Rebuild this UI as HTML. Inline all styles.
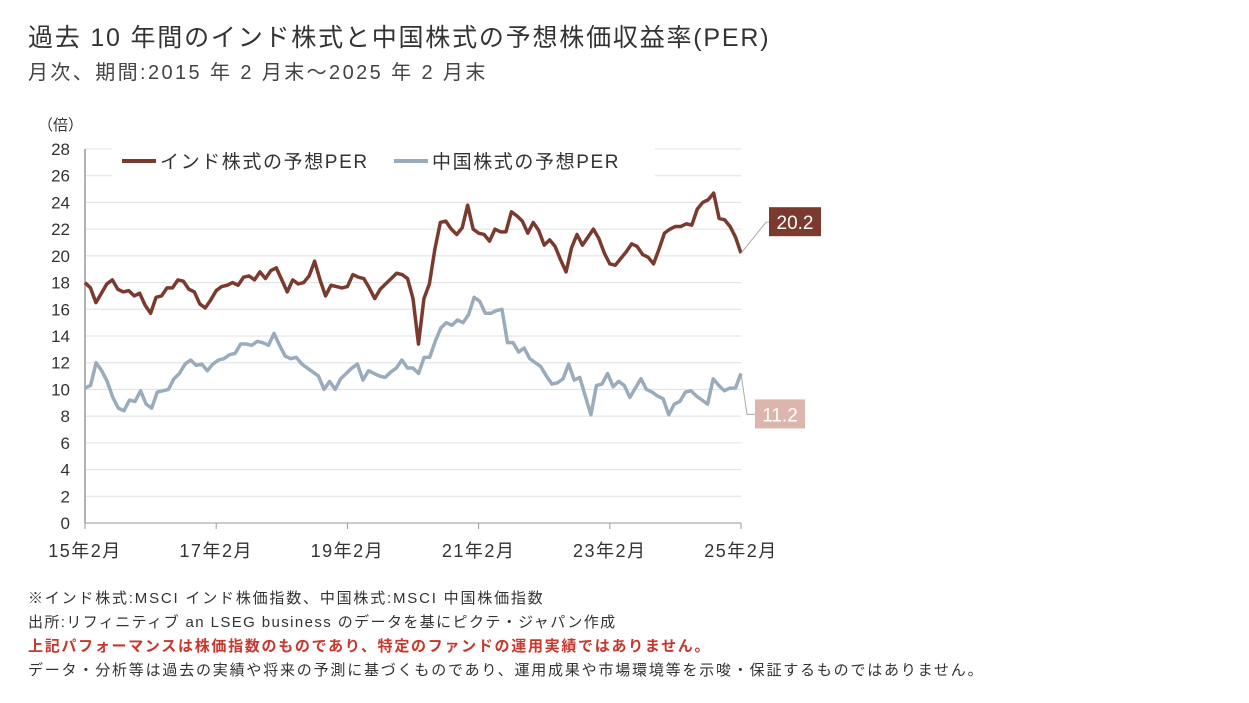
<!DOCTYPE html>
<html><head><meta charset="utf-8"><style>
body{margin:0;background:#fff;font-family:"Liberation Sans","Noto Sans CJK JP",sans-serif;}
#wrap{position:relative;width:1249px;height:703px;overflow:hidden;}
.t{position:absolute;white-space:nowrap;color:#333;}
</style></head><body><div id="wrap">
<div class="t" style="left:28px;top:18px;font-size:25px;letter-spacing:1.8px;color:#333;">過去 10 年間のインド株式と中国株式の予想株価収益率(PER)</div>
<div class="t" style="left:28px;top:56px;font-size:20px;letter-spacing:2.4px;color:#444;">月次、期間:2015 年 2 月末～2025 年 2 月末</div>
<svg id="chart" width="1249" height="703" style="position:absolute;left:0;top:0"></svg>
<div class="t" style="left:28px;top:587px;font-size:15px;letter-spacing:1.8px;">※インド株式:MSCI インド株価指数、中国株式:MSCI 中国株価指数</div>
<div class="t" style="left:28px;top:611px;font-size:15px;letter-spacing:1.4px;">出所:リフィニティブ an LSEG business のデータを基にピクテ・ジャパン作成</div>
<div class="t" style="left:28px;top:635px;font-size:15px;letter-spacing:1.7px;color:#c8372d;font-weight:bold;">上記パフォーマンスは株価指数のものであり、特定のファンドの運用実績ではありません。</div>
<div class="t" style="left:28px;top:659px;font-size:15px;letter-spacing:1.8px;">データ・分析等は過去の実績や将来の予測に基づくものであり、運用成果や市場環境等を示唆・保証するものではありません。</div>
</div>
<script>
const xLabels=["15年2月","17年2月","19年2月","21年2月","23年2月","25年2月"];
const yTicks=[0,2,4,6,8,10,12,14,16,18,20,22,24,26,28];
const india=[18.0,17.6,16.5,17.2,17.9,18.2,17.5,17.3,17.4,17.0,17.2,16.3,15.7,16.9,17.0,17.6,17.6,18.2,18.1,17.5,17.3,16.4,16.1,16.7,17.4,17.7,17.8,18.0,17.8,18.4,18.5,18.2,18.8,18.3,18.9,19.1,18.2,17.3,18.2,17.9,18.0,18.5,19.6,18.2,17.0,17.8,17.7,17.6,17.7,18.6,18.4,18.3,17.6,16.8,17.5,17.9,18.3,18.7,18.6,18.3,16.8,13.4,16.8,17.9,20.5,22.5,22.6,22.0,21.6,22.1,23.8,22.0,21.7,21.6,21.1,22.0,21.8,21.8,23.3,23.0,22.6,21.7,22.5,21.9,20.8,21.2,20.7,19.7,18.8,20.6,21.6,20.8,21.4,22.0,21.3,20.2,19.4,19.3,19.8,20.3,20.9,20.7,20.1,19.9,19.4,20.5,21.7,22.0,22.2,22.2,22.4,22.3,23.5,24.0,24.2,24.7,22.8,22.7,22.2,21.4,20.2];
const china=[10.1,10.3,12.0,11.4,10.6,9.4,8.6,8.4,9.2,9.1,9.9,8.9,8.6,9.8,9.9,10.0,10.8,11.2,11.9,12.2,11.8,11.9,11.4,11.9,12.2,12.3,12.6,12.7,13.4,13.4,13.3,13.6,13.5,13.3,14.2,13.3,12.5,12.3,12.4,11.9,11.6,11.3,11.0,10.0,10.6,10.0,10.8,11.2,11.6,11.9,10.7,11.4,11.2,11.0,10.9,11.3,11.6,12.2,11.6,11.6,11.2,12.4,12.4,13.6,14.6,15.0,14.8,15.2,15.0,15.6,16.9,16.6,15.7,15.7,15.9,16.0,13.5,13.5,12.8,13.1,12.3,12.0,11.7,11.0,10.4,10.5,10.8,11.9,10.7,10.9,9.5,8.1,10.3,10.4,11.2,10.2,10.6,10.3,9.4,10.1,10.8,10.0,9.8,9.5,9.3,8.1,8.9,9.1,9.8,9.9,9.5,9.2,8.9,10.8,10.3,9.9,10.1,10.1,11.2];
const seriesNames=["インド株式の予想PER","中国株式の予想PER"];
const X0=85,X1=741,Y0=523,Y1=149;
const xs=(i,n)=>X0+i*(X1-X0)/(n-1);
const ys=v=>Y0-(v/28)*(Y0-Y1);
const svg=document.getElementById('chart');const NS='http://www.w3.org/2000/svg';
function mk(tag,at,txt){const e=document.createElementNS(NS,tag);for(const k in at)e.setAttribute(k,at[k]);if(txt!==undefined)e.textContent=txt;svg.appendChild(e);return e;}
yTicks.forEach(v=>{
 const g=mk('line',{x1:X0,x2:X1,y1:ys(v),y2:ys(v),stroke:'#e0e0e0','stroke-width':1});
 
 
 const t=mk('text',{x:70,y:ys(v)+6,'text-anchor':'end','font-size':17,fill:'#333','font-family':'Liberation Sans'},v);
 
 
});
const yu=mk('text',{x:38,y:130,'font-size':15,fill:'#333','font-family':'Liberation Sans, Noto Sans CJK JP'},'（倍）');


const ax=mk('line',{x1:X0,x2:X0,y1:Y1,y2:Y0,stroke:'#999','stroke-width':1.5});


const xa=mk('line',{x1:X0,x2:X1,y1:Y0,y2:Y0,stroke:'#999','stroke-width':1});


xLabels.forEach((l,i)=>{
 const x=X0+i*(X1-X0)/(xLabels.length-1);
 const tk=mk('line',{x1:x,x2:x,y1:Y0,y2:Y0+6,stroke:'#999'});
 
 
 const t=mk('text',{x:x,y:557,'text-anchor':'middle','font-size':18,'letter-spacing':1.5,fill:'#333','font-family':'Liberation Sans, Noto Sans CJK JP'},l);
 
 
});
const lg=mk('rect',{x:112,y:145,width:543,height:32,fill:'#fff'});


[[india,'#7b3a2e',0],[china,'#9aabbd',1]].forEach(([d,c,k])=>{
 const p=mk('polyline',{points:d.map((v,i)=>xs(i,d.length)+','+ys(v)).join(' '),fill:'none',stroke:c,'stroke-width':3.5,'stroke-linejoin':'round'});
 
 
 const lx=k?394:122;
 const ll=mk('line',{x1:lx,x2:lx+34,y1:161,y2:161,stroke:c,'stroke-width':4});
 
 
 const lt=mk('text',{x:lx+38,y:168,'font-size':19,'letter-spacing':1.6,fill:'#333','font-family':'Liberation Sans, Noto Sans CJK JP'},seriesNames[k]);
 
 
});
const li=india[india.length-1],lc=china[china.length-1];
const c1=mk('polyline',{points:`${X1},${ys(li)} 766,${ys(li)-31} 770,${ys(li)-31}`,fill:'none',stroke:'#aaa'});


const b1=mk('rect',{x:769,y:ys(li)-46,width:52,height:29,fill:'#7b3a2e'});


const v1=mk('text',{x:795,y:ys(li)-24,'text-anchor':'middle','font-size':19,fill:'#fff','font-family':'Liberation Sans'},li.toFixed(1));


const c2=mk('polyline',{points:`${X1},${ys(lc)} 747,${ys(lc)+41} 756,${ys(lc)+41}`,fill:'none',stroke:'#aaa'});


const b2=mk('rect',{x:755,y:ys(lc)+26,width:50,height:29,fill:'#dcb5ac'});


const v2=mk('text',{x:780,y:ys(lc)+48,'text-anchor':'middle','font-size':19,fill:'#fff','font-family':'Liberation Sans'},lc.toFixed(1));


</script></body></html>
